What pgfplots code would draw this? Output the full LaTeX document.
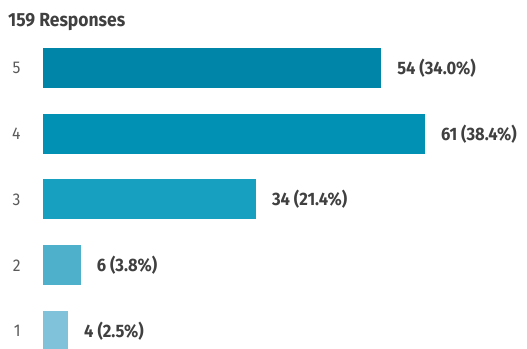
\documentclass[border=0pt]{standalone}
\usepackage{fontspec}
\setmainfont{Fira Sans}[FakeStretch=0.92]
\usepackage{pgfplots}
\pgfplotsset{compat=1.18}
\definecolor{cA}{RGB}{0,133,168}
\definecolor{cB}{RGB}{0,145,180}
\definecolor{cC}{RGB}{23,160,192}
\definecolor{cD}{RGB}{79,176,204}
\definecolor{cE}{RGB}{128,194,218}
\definecolor{tgray}{RGB}{90,90,90}
\definecolor{lgray}{RGB}{64,64,64}
\begin{document}
\begin{tikzpicture}
\begin{axis}[
  at={(43pt,0pt)}, anchor=south west,
  scale only axis, width=484pt, height=308pt,
  xbar, bar width=40pt, bar shift=0pt,
  xmin=0, xmax=77.3,
  ymin=0.741, ymax=5.426,
  axis line style={draw=none},
  major tick style={draw=none},
  xtick=\empty,
  ytick={1,2,3,4,5},
  /pgf/number format/assume math mode=true,
  yticklabel style={inner sep=0pt, anchor=east, xshift=-18pt, text=tgray,
    font=\fontsize{17}{20}\selectfont},
  point meta=explicit symbolic,
  nodes near coords,
  every node near coord/.append style={anchor=west, inner sep=0pt, xshift=16pt,
    text=lgray, font=\fontsize{18}{21}\selectfont\bfseries},
]
\addplot[fill=cA, draw=none] coordinates {(54,5) [54 (34.0\%)]};
\addplot[fill=cB, draw=none] coordinates {(61,4) [61 (38.4\%)]};
\addplot[fill=cC, draw=none] coordinates {(34,3) [34 (21.4\%)]};
\addplot[fill=cD, draw=none] coordinates {(6,2) [6 (3.8\%)]};
\addplot[fill=cE, draw=none] coordinates {(4,1) [4 (2.5\%)]};
\end{axis}
\node[anchor=base west, inner sep=0pt, text=lgray, font=\fontsize{19}{22}\selectfont\bfseries] at (8pt,321pt) {159 Responses};
\pgfresetboundingbox
\useasboundingbox (0,0) rectangle (527pt,348pt);
\end{tikzpicture}
\end{document}
